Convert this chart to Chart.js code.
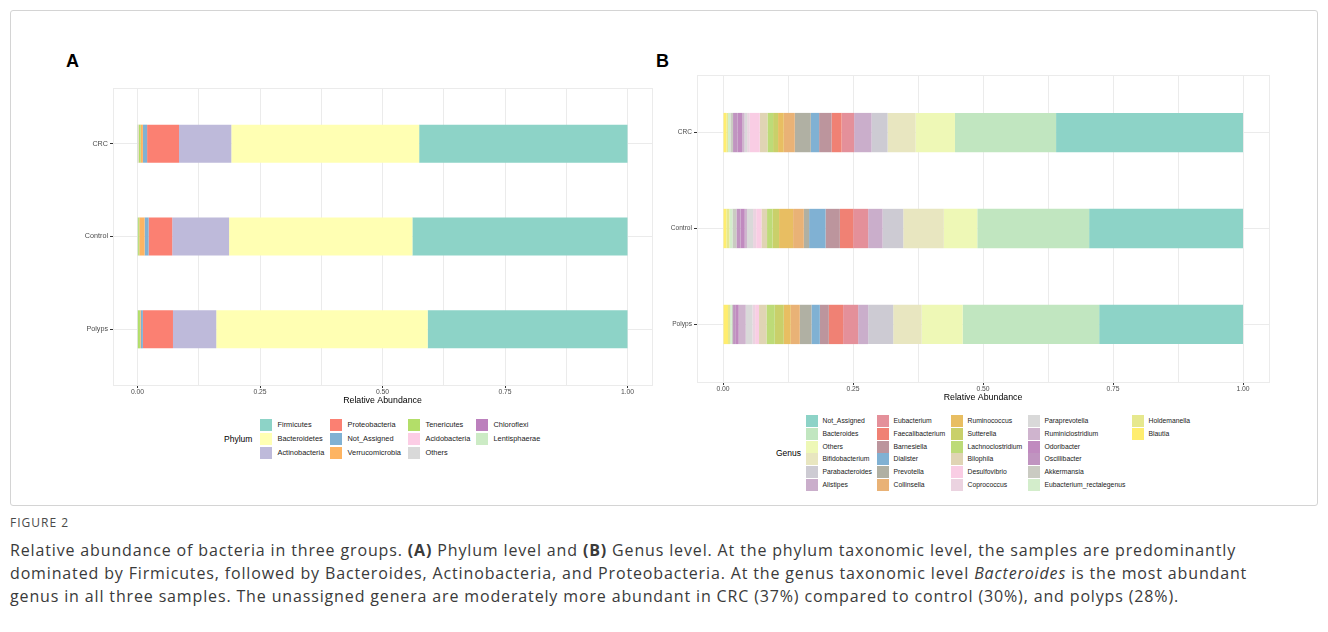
<!DOCTYPE html>
<html>
<head>
<meta charset="utf-8">
<script src="https://cdn.jsdelivr.net/npm/chart.js@4.4.1/dist/chart.umd.min.js"></script>
<style>
  html, body { margin: 0; padding: 0; background: #fff; }
  body { width: 1328px; height: 632px; position: relative; overflow: hidden; font-family: "Liberation Sans", Arial, sans-serif; }
  .frame { position: absolute; left: 10px; top: 10px; width: 1306px; height: 494px; border: 1px solid #d4d4d4; border-radius: 3px; }
  canvas { position: absolute; }
  .tag { position: absolute; font-weight: bold; font-size: 18px; color: #000; line-height: 18px; }
  .lg-title { position: absolute; font-size: 8.5px; color: #000; line-height: 10px; }
  .lg-key { position: absolute; width: 12px; height: 12px; }
  .lg-text { position: absolute; color: #1a1a1a; line-height: 8px; white-space: nowrap; }
  .fig-no { position: absolute; left: 10px; top: 514px; font-family: "Open Sans", sans-serif; font-size: 12px; letter-spacing: 1px; color: #4a4a4a; }
  .caption { position: absolute; left: 10px; top: 539px; font-family: "Open Sans", sans-serif; font-size: 16px; line-height: 23px; color: #3a3a3a; white-space: nowrap; }
</style>
</head>
<body>
<div class="frame"></div>
<div class="tag" style="left:66px; top:52px;">A</div>
<div class="tag" style="left:656px; top:52px;">B</div>
<canvas id="phylumChart" width="600" height="330" style="left:60px; top:80px;"></canvas>
<canvas id="genusChart" width="640" height="345" style="left:640px; top:65px;"></canvas>
<div id="legends"></div>
<div class="fig-no">FIGURE 2</div>
<div class="caption" id="caption"><span>Relative abundance of bacteria in three groups. <b>(A)</b> Phylum level and <b>(B)</b> Genus level. At the phylum taxonomic level, the samples are predominantly</span><br><span>dominated by Firmicutes, followed by Bacteroides, Actinobacteria, and Proteobacteria. At the genus taxonomic level <i>Bacteroides</i> is the most abundant</span><br><span>genus in all three samples. The unassigned genera are moderately more abundant in CRC (37%) compared to control (30%), and polyps (28%).</span></div>

<script>
// Sample groups, top to bottom
const sampleGroups = ['CRC', 'Control', 'Polyps'];

// Axis ticks: labelled majors and unlabelled minor grid positions
const abundanceTicks = [0, 0.125, 0.25, 0.375, 0.5, 0.625, 0.75, 0.875, 1];
const majorTicks = [0, 0.25, 0.5, 0.75, 1];

// Phylum level (legend order)
const phylumNames = ['Firmicutes', 'Bacteroidetes', 'Actinobacteria', 'Proteobacteria', 'Not_Assigned',
  'Verrucomicrobia', 'Tenericutes', 'Acidobacteria', 'Others', 'Chloroflexi', 'Lentisphaerae'];
const phylumColors = ['#8DD3C7', '#FFFFB3', '#BEBADA', '#FB8072', '#80B1D3',
  '#FDB462', '#B3DE69', '#FCCDE5', '#D9D9D9', '#BC80BD', '#CCEBC5'];
const phylumCRC     = [0.4252, 0.3834, 0.1067, 0.0651, 0.0086, 0.0045, 0.0045, 0.0010, 0.0006, 0.0002, 0.0002];
const phylumControl = [0.4390, 0.3741, 0.1161, 0.0481, 0.0082, 0.0108, 0.0025, 0.0006, 0.0004, 0.0001, 0.0001];
const phylumPolyps  = [0.4078, 0.4315, 0.0883, 0.0614, 0.0045, 0.0015, 0.0040, 0.0004, 0.0004, 0.0001, 0.0001];

// Genus level (legend order)
const genusNames = ['Not_Assigned', 'Bacteroides', 'Others', 'Bifidobacterium', 'Parabacteroides', 'Alistipes',
  'Eubacterium', 'Faecalibacterium', 'Barnesiella', 'Dialister', 'Prevotella', 'Collinsella',
  'Ruminococcus', 'Sutterella', 'Lachnoclostridium', 'Bilophila', 'Desulfovibrio', 'Coprococcus',
  'Paraprevotella', 'Ruminiclostridium', 'Odoribacter', 'Oscillibacter', 'Akkermansia', 'Eubacterium_rectalegenus',
  'Holdemanella', 'Blautia'];
const genusColors = ['#8DD3C7', '#C1E6C0', '#EEF8B6', '#E8E6C0', '#CDCBD3', '#CAAECB',
  '#E4909A', '#F08174', '#BC959D', '#80B1D3', '#B0B0A3', '#E9B276',
  '#E8BE62', '#C9D06A', '#BDDB78', '#E0D4B4', '#F9CDE4', '#EBD3E0',
  '#D9D9D9', '#CFB4CE', '#C08ABF', '#C094C0', '#CACBC2', '#D3EDCB',
  '#E6E88E', '#FFED6F'];
const genusCRC = [0.3595, 0.1944, 0.0757, 0.0539, 0.0308, 0.0335,
  0.0242, 0.0193, 0.0239, 0.0160, 0.0308, 0.0211,
  0.0110, 0.0096, 0.0108, 0.0148, 0.0193, 0.0050,
  0.0050, 0.0048, 0.0083, 0.0090, 0.0051, 0.0047,
  0.0030, 0.0065];
const genusControl = [0.2959, 0.2151, 0.0643, 0.0781, 0.0397, 0.0277,
  0.0289, 0.0256, 0.0275, 0.0316, 0.0102, 0.0206,
  0.0270, 0.0127, 0.0104, 0.0108, 0.0101, 0.0060,
  0.0116, 0.0044, 0.0080, 0.0080, 0.0077, 0.0056,
  0.0060, 0.0065];
const genusPolyps = [0.2766, 0.2625, 0.0789, 0.0547, 0.0481, 0.0193,
  0.0289, 0.0275, 0.0173, 0.0160, 0.0225, 0.0174,
  0.0134, 0.0174, 0.0159, 0.0143, 0.0075, 0.0052,
  0.0129, 0.0135, 0.0055, 0.0054, 0.0025, 0.0032,
  0.0040, 0.0096];

const FONT = '"Liberation Sans", Arial, sans-serif';
const GRID = '#EBEBEB';

// Light rectangle around the plotting panel
const panelFrame = {
  id: 'panelFrame',
  beforeDatasetsDraw(chart) {
    const a = chart.chartArea, ctx = chart.ctx;
    ctx.save();
    ctx.strokeStyle = GRID;
    ctx.lineWidth = 1;
    ctx.strokeRect(Math.round(a.left) + 0.5, Math.round(a.top) + 0.5,
      Math.round(a.right - a.left), Math.round(a.bottom - a.top));
    ctx.restore();
  }
};

// First legend level sits at the far right of each bar, so stack from the last level
function buildDatasets(names, colors, perSample) {
  return names.map((name, k) => ({
    label: name,
    data: perSample.map((vals, i) => ({ x: vals[k], y: i })),
    backgroundColor: colors[k],
    borderWidth: 0,
    categoryPercentage: 1,
    barPercentage: 0.41
  })).reverse();
}

function drawPanel(id, datasets, o) {
  return new Chart(document.getElementById(id), {
    type: 'bar',
    data: { datasets },
    options: {
      indexAxis: 'y',
      responsive: false,
      animation: false,
      events: [],
      layout: { padding: o.padding },
      plugins: { legend: { display: false }, tooltip: { enabled: false } },
      scales: {
        x: {
          type: 'linear', stacked: true, min: -0.05, max: 1.05,
          afterBuildTicks: s => { s.ticks = abundanceTicks.map(v => ({ value: v })); },
          afterFit: s => { s.height = o.xHeight; },
          ticks: {
            autoSkip: false, maxRotation: 0, minRotation: 0, padding: 0,
            color: '#4D4D4D', font: { family: FONT, size: 6.8 },
            callback: v => majorTicks.includes(v) ? v.toFixed(2) : ''
          },
          grid: {
            color: GRID, lineWidth: 1, tickLength: 3,
            tickColor: c => (c.tick && majorTicks.includes(c.tick.value)) ? '#333333' : 'rgba(0,0,0,0)'
          },
          border: { display: true, color: GRID },
          title: {
            display: true, text: 'Relative Abundance', color: '#000',
            font: { family: FONT, size: 8.8 }, padding: { top: 0, bottom: 1 }
          }
        },
        y: {
          type: 'linear', stacked: true, reverse: true, min: -0.6, max: 2.6,
          offset: false,
          afterBuildTicks: s => { s.ticks = sampleGroups.map((_, i) => ({ value: i })); },
          afterFit: s => { s.width = o.yWidth; },
          ticks: {
            autoSkip: false, padding: 2, color: '#4D4D4D',
            font: { family: FONT, size: o.yFont },
            callback: v => sampleGroups[v]
          },
          grid: { offset: false, color: GRID, lineWidth: 1, tickLength: 3, tickColor: '#333333' },
          border: { display: true, color: GRID }
        }
      }
    },
    plugins: [panelFrame]
  });
}

drawPanel('phylumChart',
  buildDatasets(phylumNames, phylumColors, [phylumCRC, phylumControl, phylumPolyps]),
  { padding: { top: 8, right: 8, bottom: 3, left: 0 }, xHeight: 22, yWidth: 53, yFont: 7.2 });

drawPanel('genusChart',
  buildDatasets(genusNames, genusColors, [genusCRC, genusControl, genusPolyps]),
  { padding: { top: 10, right: 11, bottom: 6, left: 0 }, xHeight: 22, yWidth: 57, yFont: 6.6 });

// Column-major legends below each panel
function drawLegend(title, titlePos, names, colors, nrow, colX, rowY0, rowStep, textGap, textSize) {
  const host = document.getElementById('legends');
  const t = document.createElement('div');
  t.className = 'lg-title';
  t.textContent = title;
  t.style.left = titlePos[0] + 'px';
  t.style.top = (titlePos[1] - 5) + 'px';
  host.appendChild(t);
  names.forEach((name, i) => {
    const col = Math.floor(i / nrow), row = i % nrow;
    const cy = rowY0 + row * rowStep;
    const key = document.createElement('div');
    key.className = 'lg-key';
    key.style.left = colX[col] + 'px';
    key.style.top = (cy - 6) + 'px';
    key.style.background = colors[i];
    host.appendChild(key);
    const lab = document.createElement('div');
    lab.className = 'lg-text';
    lab.textContent = name;
    lab.style.fontSize = textSize + 'px';
    lab.style.left = (colX[col] + textGap) + 'px';
    lab.style.top = (cy - 4) + 'px';
    host.appendChild(lab);
  });
}

drawLegend('Phylum', [224, 439], phylumNames, phylumColors, 3, [260, 330, 408, 476], 425, 14, 17.5, 7.4);
drawLegend('Genus', [776, 453], genusNames, genusColors, 6, [806, 877, 951, 1028, 1132], 420.7, 12.9, 16.5, 6.8);

// Spread the caption so its first line spans the figure width
(function fitCaption() {
  const cap = document.getElementById('caption');
  const first = cap.querySelector('span');
  const text = first.textContent.length;
  const extra = (1226 - first.getBoundingClientRect().width) / text;
  cap.style.letterSpacing = extra.toFixed(3) + 'px';
})();
</script>
</body>
</html>
